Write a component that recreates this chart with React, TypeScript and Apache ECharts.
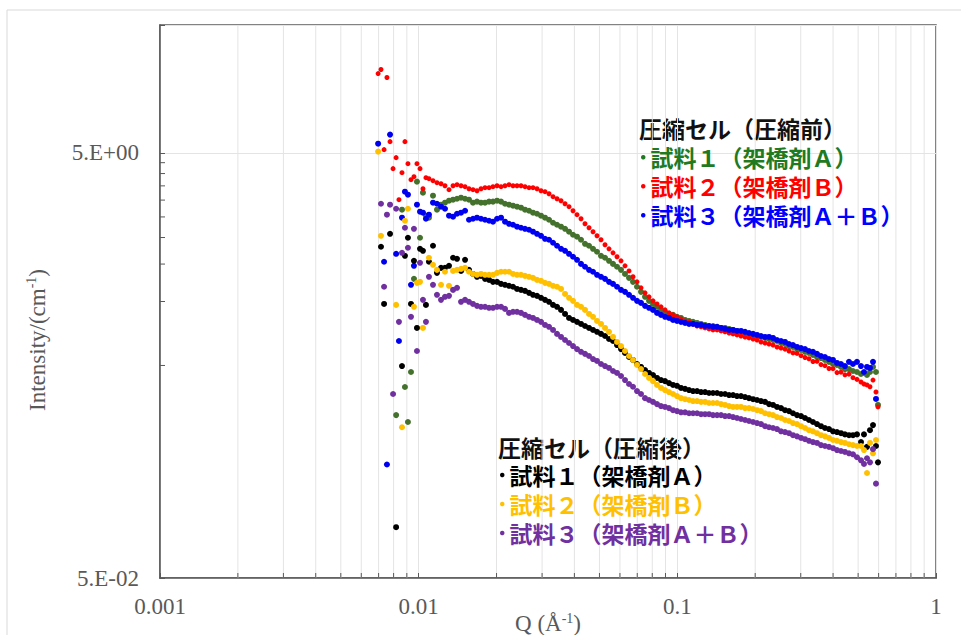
import React, { useEffect, useRef } from 'react';
import * as echarts from 'echarts';

// ---- Q grid (Å^-1) ----
const Q_LOW = [0.00697, 0.00715, 0.00735, 0.00754, 0.00775, 0.00796, 0.00818, 0.00839, 0.00862, 0.00885, 0.00909, 0.00934, 0.00959, 0.00985, 0.01012, 0.01039, 0.01067, 0.01096];
const Q_MAIN = [
  0.01136, 0.01177, 0.01220, 0.01264, 0.01310, 0.01358, 0.01407, 0.01458, 0.01511, 0.01565,
  0.01622, 0.01681, 0.01742, 0.01805, 0.01871, 0.01938, 0.02009, 0.02082, 0.02157, 0.02235,
  0.02316, 0.02400, 0.02487, 0.02577, 0.02671, 0.02767, 0.02868, 0.02972, 0.03079, 0.03191,
  0.03307, 0.03427, 0.03551, 0.03680, 0.03813, 0.03951, 0.04094, 0.04243, 0.04396, 0.04556,
  0.04721, 0.04892, 0.05069, 0.05253, 0.05443, 0.05641, 0.05845, 0.06057, 0.06277, 0.06504,
  0.06740, 0.06984, 0.07238, 0.07500, 0.07772, 0.08054, 0.08346, 0.08648, 0.08962, 0.09287,
  0.09623, 0.09972, 0.1033, 0.1071, 0.1110, 0.1150, 0.1192, 0.1235, 0.1280, 0.1326,
  0.1374, 0.1424, 0.1476, 0.1529, 0.1585, 0.1642, 0.1701, 0.1763, 0.1827, 0.1893,
  0.1962, 0.2033, 0.2106, 0.2183, 0.2262, 0.2344, 0.2429, 0.2517, 0.2608, 0.2702,
  0.2800, 0.2902, 0.3007, 0.3116, 0.3228, 0.3345, 0.3467, 0.3592, 0.3722, 0.3857,
  0.3997, 0.4142, 0.4292, 0.4447, 0.4609, 0.4776, 0.4949,
];
const Q_END = [0.5128, 0.5267, 0.5410, 0.5556, 0.5707, 0.5861, 0.5967];

// ---- Intensity (cm^-1) : 圧縮前 ----
const PRE1_LOW = [null, null, null, null, null, null, 0.292, null, 2.703, 0.396, 0.271, 0.466, 1.278, 3.664, 1.995, 3.251, 2.533, 2.479];
const PRE1_MAIN = [
  3.146, 2.703, 2.854, 2.917, 2.980, 3.013, 3.044, 3.079, 3.044, 3.013,
  2.917, 2.950, 2.917, 2.917, 2.950, 2.950, 2.980, 2.950, 2.883, 2.854,
  2.823, 2.794, 2.763, 2.703, 2.673, 2.617, 2.587, 2.533, 2.479, 2.425,
  2.347, 2.297, 2.249, 2.198, 2.130, 2.061, 2.018, 1.952, 1.868, 1.829,
  1.770, 1.714, 1.641, 1.606, 1.554, 1.503, 1.457, 1.409, 1.348, 1.292,
  1.237, 1.173, 1.110, 1.052, 1.007, 0.974, 0.944, 0.913, 0.894, 0.874,
  0.865, 0.847, 0.837, 0.819, 0.810, 0.802, 0.793, 0.784, 0.776, 0.767,
  0.767, 0.760, 0.751, 0.751, 0.743, 0.735, 0.727, 0.720, 0.711, 0.704,
  0.696, 0.688, 0.681, 0.674, 0.666, 0.659, 0.652, 0.638, 0.631, 0.617,
  0.611, 0.597, 0.592, 0.580, 0.573, 0.560, 0.548, 0.542, 0.531, 0.520,
  0.508, 0.503, 0.492, 0.481, 0.481, 0.471, 0.466,
];
const PRE1_END = [0.456, 0.461, 0.451, 0.466, 0.492, 0.466, 0.326];

const PRE2_LOW = [11.82, 12.35, 5.183, 11.32, 5.652, 4.218, 4.752, 3.013, 4.039, 5.652, 4.452, 3.743, 3.867, 4.452, 4.218, 3.395, 3.825, 3.784];
const PRE2_MAIN = [
  3.702, 3.623, 3.582, 3.506, 3.358, 3.506, 3.545, 3.506, 3.470, 3.393,
  3.358, 3.321, 3.393, 3.432, 3.432, 3.470, 3.506, 3.470, 3.506, 3.545,
  3.506, 3.506, 3.506, 3.470, 3.432, 3.432, 3.393, 3.321, 3.287, 3.214,
  3.114, 3.044, 2.980, 2.883, 2.794, 2.673, 2.561, 2.451, 2.321, 2.224,
  2.130, 2.038, 1.952, 1.849, 1.770, 1.695, 1.624, 1.554, 1.472, 1.393,
  1.307, 1.237, 1.160, 1.098, 1.052, 1.007, 0.974, 0.944, 0.913, 0.884,
  0.865, 0.847, 0.828, 0.810, 0.802, 0.784, 0.767, 0.760, 0.751, 0.743,
  0.735, 0.735, 0.727, 0.720, 0.711, 0.704, 0.696, 0.688, 0.681, 0.674,
  0.666, 0.659, 0.645, 0.638, 0.631, 0.624, 0.611, 0.604, 0.597, 0.585,
  0.573, 0.570, 0.556, 0.545, 0.538, 0.522, 0.523, 0.505, 0.499, 0.484,
  0.483, 0.463, 0.465, 0.452, 0.455, 0.438, 0.430,
];
const PRE2_END = [0.418, 0.409, 0.405, 0.397, 0.427, 0.375, 0.319];

const PRE3_LOW = [5.529, null, 1.538, 0.171, 6.099, null, 1.676, 0.652, 2.479, 3.287, 3.181, 1.198, 1.472, 2.854, 2.646, 2.617, 2.451, 2.561];
const PRE3_MAIN = [
  2.917, 2.883, 2.794, 2.731, 2.533, 2.507, 2.587, 2.617, 2.673, 2.425,
  2.451, 2.479, 2.451, 2.425, 2.399, 2.374, 2.451, 2.479, 2.374, 2.321,
  2.297, 2.249, 2.224, 2.198, 2.176, 2.130, 2.082, 2.038, 1.972, 1.952,
  1.890, 1.829, 1.770, 1.732, 1.677, 1.624, 1.571, 1.503, 1.457, 1.409,
  1.380, 1.335, 1.307, 1.278, 1.237, 1.210, 1.173, 1.134, 1.110, 1.075,
  1.041, 1.007, 0.985, 0.954, 0.934, 0.913, 0.884, 0.865, 0.847, 0.837,
  0.819, 0.810, 0.802, 0.793, 0.784, 0.784, 0.776, 0.776, 0.767, 0.767,
  0.760, 0.760, 0.751, 0.743, 0.735, 0.735, 0.727, 0.727, 0.720, 0.711,
  0.704, 0.696, 0.688, 0.681, 0.681, 0.674, 0.659, 0.652, 0.645, 0.631,
  0.624, 0.611, 0.604, 0.597, 0.585, 0.580, 0.567, 0.554, 0.548, 0.536,
  0.531, 0.514, 0.508, 0.497, 0.520, 0.508, 0.520,
];
const PRE3_END = [0.497, 0.466, 0.492, 0.487, 0.520, 0.348, null];

// ---- Intensity (cm^-1) : 圧縮後 ----
const POST1_LOW = [null, 1.810, 0.974, null, 2.082, null, 0.0867, null, 0.497, 1.641, 1.995, 0.974, 1.554, 0.751, 1.770, 1.732, 0.964, 1.538];
const POST1_MAIN = [
  1.829, 1.364, 1.440, 1.440, 1.472, 1.606, 1.588, 1.393, 1.571, 1.409,
  1.348, 1.307, 1.320, 1.278, 1.264, 1.237, 1.237, 1.210, 1.198, 1.185,
  1.173, 1.146, 1.134, 1.122, 1.098, 1.075, 1.063, 1.041, 1.018, 0.997,
  0.964, 0.944, 0.913, 0.874, 0.837, 0.819, 0.802, 0.784, 0.767, 0.751,
  0.735, 0.720, 0.704, 0.688, 0.666, 0.652, 0.624, 0.597, 0.573, 0.548,
  0.531, 0.508, 0.492, 0.476, 0.461, 0.451, 0.437, 0.427, 0.422, 0.413,
  0.405, 0.401, 0.392, 0.388, 0.383, 0.379, 0.379, 0.375, 0.375, 0.371,
  0.371, 0.371, 0.367, 0.367, 0.363, 0.363, 0.359, 0.359, 0.355, 0.351,
  0.347, 0.344, 0.340, 0.337, 0.329, 0.326, 0.319, 0.315, 0.308, 0.305,
  0.298, 0.292, 0.289, 0.283, 0.277, 0.271, 0.265, 0.259, 0.254, 0.251,
  0.245, 0.243, 0.240, 0.237, 0.235, 0.235, 0.237,
];
const POST1_END = [0.218, 0.237, 0.207, 0.248, 0.262, 0.209, 0.175];

const POST2_LOW = [5.074, 2.038, null, null, null, null, 0.964, null, 0.256, 2.399, 2.731, null, 0.944, 1.224, 1.237, 0.751, null, 1.606];
const POST2_MAIN = [
  1.488, 1.409, 1.198, 1.380, 1.185, 1.393, 1.409, 1.424, 1.440, 1.380,
  1.348, 1.335, 1.348, 1.335, 1.335, 1.335, 1.364, 1.380, 1.380, 1.380,
  1.348, 1.335, 1.335, 1.320, 1.307, 1.292, 1.264, 1.250, 1.224, 1.210,
  1.185, 1.173, 1.146, 1.085, 1.041, 1.007, 0.964, 0.944, 0.913, 0.874,
  0.847, 0.810, 0.784, 0.751, 0.720, 0.681, 0.645, 0.617, 0.585, 0.554,
  0.531, 0.503, 0.481, 0.456, 0.437, 0.422, 0.405, 0.392, 0.383, 0.375,
  0.367, 0.359, 0.351, 0.347, 0.344, 0.340, 0.340, 0.337, 0.337, 0.333,
  0.333, 0.333, 0.329, 0.326, 0.322, 0.319, 0.319, 0.319, 0.315, 0.315,
  0.312, 0.308, 0.305, 0.298, 0.295, 0.292, 0.286, 0.283, 0.277, 0.274,
  0.268, 0.265, 0.259, 0.254, 0.248, 0.245, 0.240, 0.235, 0.232, 0.228,
  0.223, 0.221, 0.218, 0.216, 0.213, 0.211, 0.209,
];
const POST2_END = [0.209, 0.200, 0.156, 0.216, 0.193, 0.223, null];

const POST3_LOW = [null, 2.883, 1.173, 2.561, 2.854, 0.367, 2.731, 0.802, 1.695, 2.224, 1.790, 0.847, 2.198, 0.585, 1.521, 1.018, 0.802, 1.307];
const POST3_MAIN = [
  1.198, 1.075, 1.018, 1.052, 1.063, 1.134, 1.160, 0.997, 1.018, 0.997,
  0.974, 0.954, 0.944, 0.944, 0.934, 0.934, 0.944, 0.944, 0.923, 0.884,
  0.894, 0.894, 0.884, 0.865, 0.847, 0.837, 0.819, 0.802, 0.776, 0.760,
  0.735, 0.704, 0.681, 0.659, 0.638, 0.617, 0.597, 0.580, 0.567, 0.554,
  0.536, 0.525, 0.508, 0.497, 0.487, 0.471, 0.461, 0.446, 0.427, 0.409,
  0.397, 0.379, 0.367, 0.351, 0.344, 0.337, 0.329, 0.322, 0.319, 0.315,
  0.308, 0.305, 0.301, 0.301, 0.298, 0.298, 0.298, 0.295, 0.295, 0.295,
  0.292, 0.292, 0.292, 0.289, 0.289, 0.286, 0.283, 0.280, 0.277, 0.274,
  0.271, 0.268, 0.265, 0.259, 0.256, 0.254, 0.251, 0.245, 0.243, 0.240,
  0.235, 0.232, 0.228, 0.225, 0.221, 0.218, 0.216, 0.211, 0.209, 0.207,
  0.204, 0.200, 0.198, 0.196, 0.193, 0.191, 0.185,
];
const POST3_END = [0.179, 0.172, 0.183, 0.175, 0.202, 0.139, null];

// ---- axes ----
const X_MIN = 0.001;
const X_MAX = 1;
const Y_MIN = 0.05;
const Y_MAX = 20;
const Y_MAJOR_STEP_DECADES = 2; // labels at 5.E-02, 5.E+00
const X_MINOR_TICKS = [0.002, 0.003, 0.004, 0.005, 0.006, 0.007, 0.008, 0.009, 0.02, 0.03, 0.04, 0.05, 0.06, 0.07, 0.08, 0.09, 0.2, 0.3, 0.4, 0.5, 0.6, 0.7, 0.8, 0.9];
const Y_MINOR_TICKS = [0.5, 1, 1.5, 2, 2.5, 3, 3.5, 4, 4.5];

const TITLE_PRE = '圧縮セル（圧縮前）';
const TITLE_POST = '圧縮セル（圧縮後）';
const NAMES = ['試料１（架橋剤Ａ）', '試料２（架橋剤Ｂ）', '試料３（架橋剤Ａ＋Ｂ）'];

const SERIF = '"Liberation Serif", "Times New Roman", "DejaVu Serif", serif';
const JP = '"Noto Sans CJK JP", "Noto Sans", sans-serif';
const AXIS_GRAY = '#595959';
const GRID_GRAY = '#e4e4e4';

const Q_ALL = [...Q_LOW, ...Q_MAIN, ...Q_END];
const toY = (v: number) => Math.log10(v / Y_MIN);
const Y_TOP = toY(Y_MAX);

function points(low: (number | null)[], main: (number | null)[], end: (number | null)[]) {
  const v = [...low, ...main, ...end];
  const out: number[][] = [];
  const n = Math.min(v.length, Q_ALL.length);
  for (let i = 0; i < n; i++) {
    const y = v[i];
    if (y != null) out.push([Q_ALL[i], toY(y)]);
  }
  return out;
}

const SERIES_DEF = [
  { key: '前|' + NAMES[0], color: '#44712c', text: '#1f7a22', size: 6, data: points(PRE1_LOW, PRE1_MAIN, PRE1_END) },
  { key: '前|' + NAMES[1], color: '#ff0000', text: '#ff0000', size: 5, data: points(PRE2_LOW, PRE2_MAIN, PRE2_END) },
  { key: '前|' + NAMES[2], color: '#0000f0', text: '#0000ff', size: 6, data: points(PRE3_LOW, PRE3_MAIN, PRE3_END) },
  { key: '後|' + NAMES[0], color: '#000000', text: '#000000', size: 6, data: points(POST1_LOW, POST1_MAIN, POST1_END) },
  { key: '後|' + NAMES[1], color: '#ffc000', text: '#ffc000', size: 6, data: points(POST2_LOW, POST2_MAIN, POST2_END) },
  { key: '後|' + NAMES[2], color: '#7030a0', text: '#7030a0', size: 6, data: points(POST3_LOW, POST3_MAIN, POST3_END) },
];

function fmtY(v: number) {
  if (Math.abs(v - Y_TOP) < 1e-6) return '';
  const val = Y_MIN * Math.pow(10, v);
  const e = Math.floor(Math.log10(val) + 1e-9);
  const m = Math.round(val / Math.pow(10, e));
  const sign = e < 0 ? '-' : '+';
  return `${m}.E${sign}${String(Math.abs(e)).padStart(2, '0')}`;
}

const LEG_LINE = 24;
const LEG_GAP = 5;

export default function App() {
  const ref = useRef<HTMLDivElement>(null);
  useEffect(() => {
    if (!ref.current) return;
    const chart = echarts.init(ref.current, null, { renderer: 'svg' });

    const legendBlock = (prefix: string, left: number, firstCenterY: number) => ({
      show: true,
      orient: 'vertical',
      left,
      top: firstCenterY - LEG_LINE / 2,
      padding: 0,
      itemGap: LEG_GAP,
      itemWidth: 4.5,
      itemHeight: 4.5,
      icon: 'circle',
      selectedMode: false,
      formatter: (name: string) => name.split('|')[1],
      textStyle: { fontFamily: JP, fontWeight: 'bold', fontSize: 23, lineHeight: LEG_LINE },
      data: SERIES_DEF.filter((s) => s.key.startsWith(prefix)).map((s) => ({
        name: s.key,
        itemStyle: { color: s.text },
        textStyle: { color: s.text, fontFamily: JP, fontWeight: 'bold', fontSize: 23, lineHeight: LEG_LINE },
      })),
    });

    const titleText = (text: string, x: number, y: number) => ({
      type: 'text',
      x,
      y,
      silent: true,
      style: {
        text,
        fill: '#111111',
        fontFamily: JP,
        fontWeight: 'bold',
        fontSize: 23,
        lineHeight: LEG_LINE,
        align: 'left',
        verticalAlign: 'middle',
        textAlign: 'left',
        textVerticalAlign: 'middle',
      },
    });

    const option: any = {
      animation: false,
      backgroundColor: '#ffffff',
      grid: {
        left: 160,
        right: 25,
        top: 25,
        bottom: 57,
        containLabel: false,
        outerBoundsMode: 'none',
        show: true,
        borderColor: AXIS_GRAY,
        borderWidth: 1.5,
        backgroundColor: 'transparent',
      },
      legend: [legendBlock('前|', 641, 157.3), legendBlock('後|', 500, 475)],
      xAxis: {
        type: 'log',
        logBase: 10,
        min: X_MIN,
        max: X_MAX,
        axisLine: { show: true, onZero: false, lineStyle: { color: AXIS_GRAY, width: 1.5 } },
        axisTick: { show: true, inside: true, length: 5, lineStyle: { color: AXIS_GRAY, width: 1 } },
        axisLabel: {
          color: AXIS_GRAY,
          fontFamily: SERIF,
          fontSize: 23,
          lineHeight: 23,
          margin: 17,
          formatter: (v: number) => String(Number(v.toPrecision(3))),
        },
        splitLine: { show: true, lineStyle: { color: GRID_GRAY, width: 1 } },
        name: '{n|Q (Å}{s|-1}{n|)}',
        nameLocation: 'middle',
        nameGap: 33,
        nameMoveOverlap: false,
        nameTextStyle: {
          color: AXIS_GRAY,
          fontFamily: SERIF,
          fontSize: 23,
          rich: {
            n: { color: AXIS_GRAY, fontFamily: SERIF, fontSize: 23, lineHeight: 24 },
            s: { color: AXIS_GRAY, fontFamily: SERIF, fontSize: 14, lineHeight: 12, verticalAlign: 'top' },
          },
        },
      },
      yAxis: {
        type: 'value',
        min: 0,
        max: Y_TOP,
        interval: Y_MAJOR_STEP_DECADES,
        axisLine: { show: true, onZero: false, lineStyle: { color: AXIS_GRAY, width: 1.5 } },
        axisTick: { show: true, inside: true, length: 5, lineStyle: { color: AXIS_GRAY, width: 1 } },
        axisLabel: {
          color: AXIS_GRAY,
          fontFamily: SERIF,
          fontSize: 23,
          margin: 21,
          formatter: fmtY,
        },
        splitLine: { show: true, lineStyle: { color: GRID_GRAY, width: 1 } },
      },
      graphic: [
        {
          type: 'rect',
          silent: true,
          shape: { x: 7, y: 10, width: 1000, height: 700 },
          style: { fill: 'none', stroke: '#d9d9d9', lineWidth: 1 },
        },
        {
          type: 'text',
          x: 37,
          y: 340,
          rotation: Math.PI / 2,
          silent: true,
          style: {
            text: '{n|Intensity/(cm}{s|-1}{n|)}',
            align: 'center',
            verticalAlign: 'middle',
            textAlign: 'center',
            textVerticalAlign: 'middle',
            rich: {
              n: { fill: AXIS_GRAY, fontFamily: SERIF, fontSize: 23, lineHeight: 26 },
              s: { fill: AXIS_GRAY, fontFamily: SERIF, fontSize: 14, lineHeight: 14, verticalAlign: 'top' },
            },
          },
        },
        titleText(TITLE_PRE, 639, 128),
        titleText(TITLE_POST, 498, 446.5),
      ],
      series: [
        {
          type: 'custom',
          name: 'x-minor',
          silent: true,
          z: 1,
          clip: false,
          data: X_MINOR_TICKS.map((q) => [q, 0]),
          renderItem: (_p: any, api: any) => {
            const q = api.value(0);
            const b = api.coord([q, 0]);
            const t = api.coord([q, Y_TOP]);
            return {
              type: 'group',
              children: [
                { type: 'line', shape: { x1: b[0], y1: t[1], x2: b[0], y2: b[1] }, style: { stroke: GRID_GRAY, lineWidth: 1 } },
                { type: 'line', shape: { x1: b[0], y1: b[1], x2: b[0], y2: b[1] - 5 }, style: { stroke: AXIS_GRAY, lineWidth: 1 } },
              ],
            };
          },
        },
        {
          type: 'custom',
          name: 'y-minor',
          silent: true,
          z: 1,
          clip: false,
          data: Y_MINOR_TICKS.map((v) => [X_MIN, toY(v)]),
          renderItem: (_p: any, api: any) => {
            const p = api.coord([X_MIN, api.value(1)]);
            return {
              type: 'line',
              shape: { x1: p[0], y1: p[1], x2: p[0] + 5, y2: p[1] },
              style: { stroke: AXIS_GRAY, lineWidth: 1 },
            };
          },
        },
        ...SERIES_DEF.map((s) => ({
          type: 'scatter',
          name: s.key,
          z: 3,
          symbol: 'circle',
          symbolSize: s.size,
          itemStyle: { color: s.color, opacity: 1 },
          emphasis: { disabled: true },
          data: s.data,
        })),
      ],
    };

    chart.setOption(option);
    return () => chart.dispose();
  }, []);

  return <div ref={ref} style={{ position: 'fixed', left: 0, top: 0, width: 961, height: 635 }} />;
}
